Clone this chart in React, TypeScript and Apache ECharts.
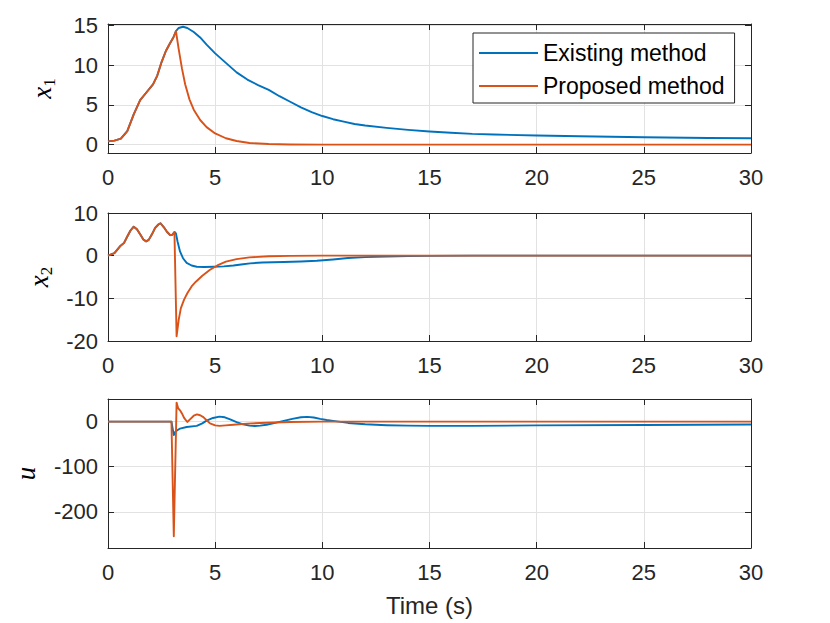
import React, { useEffect, useRef } from "react";
import * as echarts from "echarts";

// ---------------- data ----------------
const seriesNames = ["Existing method", "Proposed method"];
const xTicks = [0, 5, 10, 15, 20, 25, 30];

const timeX1Existing = [0, 0.3, 0.6, 0.9, 1.2, 1.5, 1.8, 2.1, 2.3, 2.5, 2.7, 2.9, 3.05, 3.17, 3.3, 3.5, 3.7, 4.0, 4.3, 4.6, 5.0, 5.5, 6.0, 6.5, 7.0, 7.5, 8.0, 8.5, 9.0, 9.5, 10, 10.5, 11, 11.5, 12, 13, 14, 15, 16, 17, 18, 20, 22, 25, 28, 30];
const x1Existing = [0.4, 0.5, 0.75, 1.7, 3.8, 5.6, 6.6, 7.6, 8.7, 10.4, 11.8, 12.8, 13.5, 14.3, 14.7, 14.85, 14.7, 14.2, 13.5, 12.6, 11.5, 10.3, 9.1, 8.2, 7.5, 6.9, 6.1, 5.4, 4.7, 4.1, 3.6, 3.2, 2.9, 2.6, 2.4, 2.1, 1.85, 1.65, 1.5, 1.35, 1.27, 1.14, 1.05, 0.92, 0.84, 0.8];

const timeX1Proposed = [0, 0.3, 0.6, 0.9, 1.2, 1.5, 1.8, 2.1, 2.3, 2.5, 2.7, 2.9, 3.05, 3.17, 3.3, 3.45, 3.6, 3.8, 4.0, 4.3, 4.6, 5.0, 5.5, 6.0, 6.6, 7.5, 8.5, 10, 15, 20, 25, 30];
const x1Proposed = [0.4, 0.5, 0.75, 1.7, 3.8, 5.6, 6.6, 7.6, 8.7, 10.4, 11.8, 12.8, 13.5, 14.3, 12.0, 9.6, 7.6, 5.7, 4.4, 3.1, 2.2, 1.4, 0.8, 0.45, 0.2, 0.07, 0.02, 0, 0, 0, 0, 0];

const timeX2Existing = [0, 0.3, 0.56, 0.75, 0.9, 1.05, 1.2, 1.35, 1.5, 1.65, 1.78, 1.9, 2.05, 2.2, 2.35, 2.45, 2.6, 2.75, 2.9, 3.0, 3.1, 3.17, 3.25, 3.36, 3.5, 3.67, 3.9, 4.14, 4.5, 4.92, 5.4, 5.85, 6.3, 6.63, 7.2, 8.2, 9.0, 9.74, 10.5, 11.2, 12, 13, 14, 15, 17, 30];
const x2Existing = [0, 0.6, 2.2, 3.0, 4.5, 5.9, 6.8, 6.2, 5.0, 3.8, 3.35, 3.7, 5.0, 6.5, 7.3, 7.6, 6.7, 5.6, 4.8, 4.9, 5.55, 5.2, 3.2, 1.0, -0.6, -1.7, -2.3, -2.6, -2.65, -2.6, -2.5, -2.3, -2.0, -1.8, -1.6, -1.5, -1.35, -1.2, -0.9, -0.55, -0.35, -0.2, -0.1, -0.05, 0, 0];

const timeX2Proposed = [0, 0.3, 0.56, 0.75, 0.9, 1.05, 1.2, 1.35, 1.5, 1.65, 1.78, 1.9, 2.05, 2.2, 2.35, 2.45, 2.6, 2.75, 2.9, 3.0, 3.1, 3.2, 3.3, 3.4, 3.55, 3.7, 3.9, 4.1, 4.4, 4.76, 5.1, 5.5, 6.0, 6.6, 7.5, 8.5, 10, 30];
const x2Proposed = [0, 0.6, 2.2, 3.0, 4.5, 5.9, 6.8, 6.2, 5.0, 3.8, 3.35, 3.7, 5.0, 6.5, 7.3, 7.6, 6.7, 5.6, 4.8, 4.9, 5.55, -18.9, -15.0, -12.3, -10.3, -8.8, -7.2, -6.1, -4.7, -3.3, -2.3, -1.4, -0.8, -0.4, -0.15, -0.05, 0, 0];

const timeUExisting = [0, 1, 2, 2.96, 3.07, 3.15, 3.36, 3.67, 4.14, 4.4, 4.6, 4.9, 5.2, 5.45, 5.7, 6.0, 6.3, 6.6, 6.85, 7.1, 7.4, 7.8, 8.2, 8.6, 9.0, 9.3, 9.6, 9.9, 10.2, 10.5, 11.2, 12, 13, 14, 15, 17, 20, 25, 30];
const uExisting = [0, 0, 0, 0, -30, -22, -15.5, -12, -9.6, -4, 2, 8, 11, 9.5, 5, -1, -6, -9, -9.8, -9, -7, -3, 1.5, 6, 9.5, 10.5, 9, 6, 3.5, 1.5, -3, -6, -8, -9, -9.5, -9.5, -8.5, -7.5, -6.5];

const timeUProposed = [0, 1, 2, 2.96, 3.07, 3.2, 3.27, 3.36, 3.45, 3.55, 3.7, 3.85, 4.0, 4.15, 4.3, 4.45, 4.6, 4.76, 5.0, 5.2, 5.5, 5.85, 6.5, 7.4, 8.5, 10, 30];
const uProposed = [0, 0, 0, 0, -254, 42, 30, 25, 18, 8, -1, 6, 13, 16, 14, 10, 3, -4, -8.5, -9.5, -8.5, -7, -4.5, -2.5, -1, 0, 0];

// axis ranges
const x1Range = [-1.06, 15.2];
const x2Range = [-20, 10];
const uRange = [-280, 50];
const x1Step = 5;
const x2Step = 10;
const uStep = 100;

// ---------------- styles ----------------
const BLUE = "#0072BD";
const ORANGE = "#D95319";
const AXIS = "#262626";
const GRIDC = "#e2e2e2";
const SANS = "Liberation Sans";
const SERIF = "Liberation Serif";

const pairs = (t: number[], v: number[]) => t.map((x, i) => [x, v[i]]);
const isMult = (v: number, s: number) => Math.abs(v / s - Math.round(v / s)) < 1e-6;

const axisLine = { show: true, onZero: false, lineStyle: { color: AXIS, width: 1 } };
const axisTick = { show: true, inside: true, length: 6, lineStyle: { color: AXIS, width: 1 } };

function xBottom(gi: number, extra: any = {}) {
  return {
    type: "value", gridIndex: gi, position: "bottom", min: xTicks[0], max: xTicks[xTicks.length - 1], interval: xTicks[1] - xTicks[0],
    axisLine, axisTick,
    axisLabel: { color: AXIS, fontSize: 22, fontFamily: SANS, margin: 13 },
    splitLine: { show: true, lineStyle: { color: GRIDC, width: 1 } },
    ...extra,
  };
}
function xTop(gi: number) {
  return {
    type: "value", gridIndex: gi, position: "top", min: xTicks[0], max: xTicks[xTicks.length - 1], interval: xTicks[1] - xTicks[0],
    axisLine, axisTick, axisLabel: { show: false }, splitLine: { show: false },
  };
}
const richName = {
  v: { fontFamily: SERIF, fontStyle: "italic", fontSize: 27, color: "#000", lineHeight: 32 },
  s: { fontFamily: SERIF, fontSize: 17, color: "#000", lineHeight: 17, verticalAlign: "bottom" },
};
function yLeft(gi: number, range: number[], step: number, name: string, gap: number) {
  return {
    type: "value", gridIndex: gi, position: "left", min: range[0], max: range[1], minInterval: step, maxInterval: step,
    axisLine, axisTick,
    axisLabel: {
      color: AXIS, fontSize: 22, fontFamily: SANS, margin: 10,
      formatter: (v: number) => (isMult(v, step) ? String(Math.round(v)) : ""),
    },
    splitLine: { show: true, lineStyle: { color: GRIDC, width: 1 } },
    name, nameLocation: "middle", nameGap: gap, nameRotate: 90,
    nameTextStyle: { rich: richName },
  };
}
function yRight(gi: number, range: number[], step: number) {
  return {
    type: "value", gridIndex: gi, position: "right", min: range[0], max: range[1], minInterval: step, maxInterval: step,
    axisLine, axisTick, axisLabel: { show: false }, splitLine: { show: false },
  };
}
function line(name: string, color: string, axis: number, data: number[][], z: number) {
  return {
    type: "line", name, xAxisIndex: axis, yAxisIndex: axis, data,
    showSymbol: false, symbol: "none", z,
    lineStyle: { color, width: 1.9, join: "round" }, itemStyle: { color },
  };
}

export default function App() {
  const ref = useRef<HTMLDivElement>(null);
  useEffect(() => {
    if (!ref.current) return;
    const chart = echarts.init(ref.current, null, { renderer: "svg" });
    const option: any = {
      animation: false,
      backgroundColor: "#fff",
      grid: [
        { left: 108, top: 24, width: 643, height: 129, outerBoundsMode: "none" },
        { left: 108, top: 213, width: 643, height: 128, outerBoundsMode: "none" },
        { left: 108, top: 399, width: 643, height: 149, outerBoundsMode: "none" },
      ],
      xAxis: [
        xBottom(0), xTop(0),
        xBottom(1), xTop(1),
        xBottom(2, {
          name: "Time (s)", nameLocation: "middle", nameGap: 45,
          nameTextStyle: { color: AXIS, fontSize: 24, fontFamily: SANS },
        }),
        xTop(2),
      ],
      yAxis: [
        yLeft(0, x1Range, x1Step, "{v|x}{s|1}", 50), yRight(0, x1Range, x1Step),
        yLeft(1, x2Range, x2Step, "{v|x}{s|2}", 50), yRight(1, x2Range, x2Step),
        yLeft(2, uRange, uStep, "{v|u}", 66), yRight(2, uRange, uStep),
      ],
      legend: {
        data: seriesNames,
        orient: "vertical", left: 473, top: 33,
        icon: "rect", itemWidth: 59, itemHeight: 2, itemGap: 9,
        padding: [8, 10, 5, 6],
        backgroundColor: "#fff", borderColor: AXIS, borderWidth: 1, borderRadius: 0,
        textStyle: { fontSize: 23, fontFamily: SANS, color: "#000", lineHeight: 24 },
        selectedMode: false,
      },
      series: [
        line(seriesNames[0], BLUE, 0, pairs(timeX1Existing, x1Existing), 2),
        line(seriesNames[1], ORANGE, 0, pairs(timeX1Proposed, x1Proposed), 3),
        line(seriesNames[0], BLUE, 2, pairs(timeX2Existing, x2Existing), 2),
        line(seriesNames[1], ORANGE, 2, pairs(timeX2Proposed, x2Proposed), 3),
        line(seriesNames[0], BLUE, 4, pairs(timeUExisting, uExisting), 2),
        line(seriesNames[1], ORANGE, 4, pairs(timeUProposed, uProposed), 3),
      ],
    };
    chart.setOption(option);
    return () => chart.dispose();
  }, []);
  return (
    <div
      ref={ref}
      style={{ position: "absolute", left: 0, top: 0, width: 830, height: 623, background: "#fff" }}
    />
  );
}
